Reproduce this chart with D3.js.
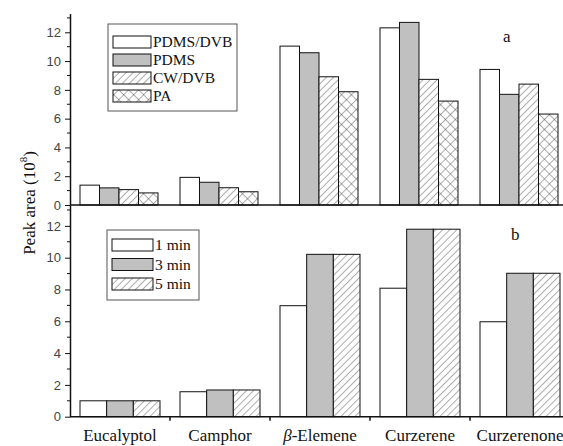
<!DOCTYPE html>
<html>
<head>
<meta charset="utf-8">
<script src="https://cdn.jsdelivr.net/npm/d3@7"></script>
<style>
  body { margin: 0; background: #fff; }
  svg { display: block; }
</style>
</head>
<body>
<svg id="svg1" width="563" height="446"></svg>
<script>
// data
var compounds = ["Eucalyptol", "Camphor", "β-Elemene", "Curzerene", "Curzerenone"];

var fibers = ["PDMS/DVB", "PDMS", "CW/DVB", "PA"];
var pdmsDvb = [1.38, 1.92, 11.04, 12.31, 9.42];
var pdms    = [1.19, 1.58, 10.58, 12.69, 7.69];
var cwDvb   = [1.07, 1.20, 8.91, 8.73, 8.40];
var pa      = [0.84, 0.92, 7.87, 7.22, 6.32];

var times = ["1 min", "3 min", "5 min"];
var min1 = [1.0, 1.57, 6.98, 8.08, 5.97];
var min3 = [1.0, 1.68, 10.21, 11.79, 9.02];
var min5 = [1.0, 1.68, 10.21, 11.79, 9.02];

var yTicks = [0, 2, 4, 6, 8, 10, 12];
var yMinor = [1, 3, 5, 7, 9, 11, 13];

var SERIF = "'Liberation Serif', 'Times New Roman', serif";
var SANS = "'Liberation Sans', Arial, sans-serif";

var svg1 = d3.select("#svg1");
var defs = svg1.append("defs");

// hatch patterns
var p1 = defs.append("pattern").attr("id", "diag")
  .attr("patternUnits", "userSpaceOnUse").attr("width", 5).attr("height", 5)
  .attr("patternTransform", "rotate(45)");
p1.append("rect").attr("width", 5).attr("height", 5).attr("fill", "white");
p1.append("line").attr("x1", 0).attr("y1", 0).attr("x2", 0).attr("y2", 5)
  .attr("stroke", "#333").attr("stroke-width", 0.8);

var p2 = defs.append("pattern").attr("id", "cross")
  .attr("patternUnits", "userSpaceOnUse").attr("width", 7).attr("height", 7)
  .attr("patternTransform", "rotate(45)");
p2.append("rect").attr("width", 7).attr("height", 7).attr("fill", "white");
p2.append("line").attr("x1", 0).attr("y1", 0).attr("x2", 0).attr("y2", 7)
  .attr("stroke", "#333").attr("stroke-width", 0.8);
p2.append("line").attr("x1", 0).attr("y1", 0).attr("x2", 7).attr("y2", 0)
  .attr("stroke", "#333").attr("stroke-width", 0.8);

var fills = ["white", "#c0c0c0", "url(#diag)", "url(#cross)"];

var x = d3.scaleBand().domain(compounds).range([70, 570]);

function panel(yRange, names, series, bandRange, showX, legendBox, tag, tagPos) {
  var y = d3.scaleLinear().domain([0, 13.3]).range(yRange);
  var xs = d3.scaleBand().domain(names).range(bandRange);
  var g = svg1.append("g");

  names.forEach(function(n, i) {
    g.selectAll(null)
      .data(series[i])
      .enter()
      .append("rect")
      .attr("x", function(d, j) { return x(compounds[j]) + xs(n); })
      .attr("y", function(d) { return y(d); })
      .attr("width", xs.bandwidth())
      .attr("height", function(d) { return y(0) - y(d); })
      .attr("fill", fills[i])
      .attr("stroke", "#111")
      .attr("stroke-width", 1);
  });

  // y axis
  var ya = g.append("g").attr("transform", "translate(70,0)")
    .call(d3.axisLeft(y).tickValues(yTicks).tickSize(5).tickSizeOuter(0));
  ya.attr("font-family", null);
  ya.select(".domain").attr("stroke", "#111").attr("stroke-width", 1.5);
  ya.selectAll(".tick line").attr("stroke", "#111");
  ya.selectAll("text").style("font-family", SANS).attr("font-size", 13)
    .attr("fill", "#444").attr("dx", -1);
  g.selectAll(null).data(yMinor.filter(function(v) { return v <= 13.3; }))
    .enter().append("line")
    .attr("x1", 67).attr("x2", 70)
    .attr("y1", function(d) { return y(d); }).attr("y2", function(d) { return y(d); })
    .attr("stroke", "#111");

  // x axis
  var xa = g.append("g").attr("transform", "translate(0," + y(0) + ")");
  if (showX) {
    xa.call(d3.axisBottom(x).tickSize(0).tickSizeOuter(0));
    xa.attr("font-family", null);
    xa.selectAll(".tick text").style("font-family", SERIF)
      .attr("font-size", 17).attr("fill", "#111").attr("y", 24).attr("dy", 0);
    xa.selectAll(".tick text").filter(function(d) { return d === "β-Elemene"; })
      .text(null).call(function(t) {
        t.append("tspan").attr("font-style", "italic").text("β");
        t.append("tspan").text("-Elemene");
      });
    xa.selectAll(null).data(compounds.slice(1)).enter().append("line")
      .attr("x1", function(d) { return x(d); }).attr("x2", function(d) { return x(d); })
      .attr("y1", 0).attr("y2", 4).attr("stroke", "#111").attr("stroke-width", 1.5);
  }
  xa.append("line").attr("x1", 70).attr("x2", 563).attr("y1", 0).attr("y2", 0)
    .attr("stroke", "#111").attr("stroke-width", 1.5);
  xa.select(".domain").remove();

  // legend
  var lg = g.append("g");
  lg.append("rect").attr("x", legendBox.x).attr("y", legendBox.y)
    .attr("width", legendBox.w).attr("height", legendBox.h)
    .attr("fill", "white").attr("stroke", "#555").attr("stroke-width", 1);
  names.forEach(function(n, i) {
    var cy = legendBox.y + legendBox.first + i * legendBox.step;
    lg.append("rect").attr("x", legendBox.x + 5).attr("y", cy - 6)
      .attr("width", legendBox.sw).attr("height", 12)
      .attr("fill", fills[i]).attr("stroke", "#111");
    lg.append("text").style("font-family", SERIF).attr("x", legendBox.x + legendBox.sw + 7).attr("y", cy + 5)
      .attr("font-size", 15.5).attr("fill", "#111").text(n);
  });

  g.append("text").style("font-family", SERIF).attr("x", tagPos[0]).attr("y", tagPos[1])
    .attr("font-size", 17).attr("fill", "#111").text(tag);
}

panel([205, 13.6], fibers, [pdmsDvb, pdms, cwDvb, pa], [10, 88], false,
  { x: 108, y: 24, w: 129, h: 87, first: 18, step: 18, sw: 38 }, "a", [503, 42]);

panel([416.7, 205.2], times, [min1, min3, min5], [10, 90], true,
  { x: 107, y: 230, w: 92, h: 70, first: 15, step: 19.5, sw: 41 }, "b", [511, 240]);

// y label
svg1.append("text")
  .style("font-family", SERIF)
  .attr("transform", "translate(35,203) rotate(-90)")
  .attr("text-anchor", "middle")
  .attr("font-size", 17)
  .attr("fill", "#111")
  .call(function(t) {
    t.append("tspan").text("Peak area (10");
    t.append("tspan").attr("font-size", 11).attr("dy", -8).text("8");
    t.append("tspan").attr("dy", 8).text(")");
  });
</script>
</body>
</html>
